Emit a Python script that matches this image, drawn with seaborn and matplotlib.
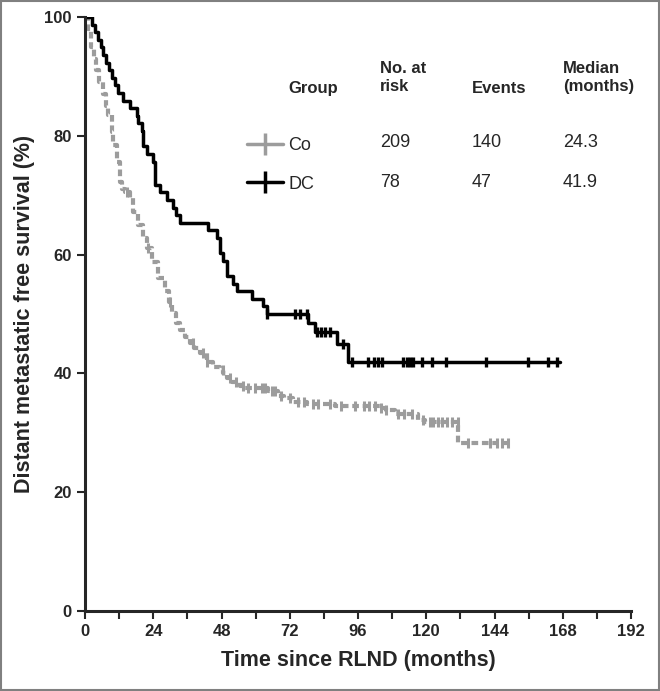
import numpy as np
import pandas as pd
import seaborn as sns
from matplotlib import pyplot as plt
from matplotlib.lines import Line2D
from matplotlib.patches import Rectangle

# DC group (black, solid) - survival % after each step
dc_time = [0, 2.5, 3.5, 4.5, 5.5, 6.5, 7.5, 8.5, 9.5, 10.5, 11.5, 13.5, 15.8,
           18.2, 18.8, 19.9, 20.5, 21.7, 24.0, 24.6, 26.4, 29.0, 31.0, 32.0,
           33.4, 43.3, 46.3, 47.5, 48.5, 49.8, 52.1, 53.3, 58.6, 62.7, 63.9,
           78.5, 80.9, 88.5, 92.5]
dc_surv = [100, 98.7, 97.4, 96.2, 94.9, 93.6, 92.3, 91.0, 89.7, 88.5, 87.2,
           85.9, 84.6, 83.3, 82.1, 80.8, 78.2, 76.9, 75.6, 71.8, 70.5, 69.2,
           67.9, 66.7, 65.4, 64.1, 62.8, 60.3, 59.0, 56.4, 55.1, 53.9, 52.6,
           51.3, 50.0, 48.5, 46.9, 44.9, 42.0]
dc_end = 167
dc_censor = [64, 74, 75.5, 78, 81.5, 83, 84.5, 86, 90.8, 93.8, 99.5, 101.5,
             103, 104.4, 111.9, 113.1, 114.3, 115.4, 118.4, 121.9, 126.9,
             141, 155.9, 162.7, 165.8]

# Co group (grey, dashed)
co_time = [0, 1, 2, 3, 4, 5, 6.4, 7.3, 8.2, 9.4, 10, 11.1, 12.3, 13, 14.1,
           15.8, 17, 18.7, 20.5, 21.7, 23.5, 25.8, 28.1, 29.5, 30.5, 32, 33.4,
           35, 36.9, 38.5, 40.4, 42.8, 45.1, 47.5, 48.6, 50, 51.6, 54.5, 56,
           64.5, 68, 70, 73, 78, 88, 104, 106, 109, 117, 119.5, 131.3]
co_surv = [100, 98, 95, 93, 91, 89, 87, 85, 83.5, 80.7, 78.5, 75.6, 72.3, 71,
           70.6, 69.5, 67.2, 65, 62.8, 61.1, 58.8, 56, 53.8, 52, 50.1, 48.5,
           47.3, 46.2, 45.1, 44.2, 43.4, 42, 41.1, 40.6, 40, 39.2, 38.6, 37.8,
           37.5, 37.0, 36.2, 35.8, 35.2, 34.9, 34.5, 34.2, 33.8, 33.2, 32.2,
           31.8, 28.3]
co_end = 149.4
co_censor = [14.8, 22, 30, 38, 41.5, 43, 48.5, 51, 53, 55.6, 57.4, 59.8, 62.2,
             63.3, 65.8, 66.8, 69, 72, 75, 77, 80, 82, 86, 90, 95, 98, 100,
             102, 104, 106, 110, 112, 114.9, 119, 121.3, 122.5, 124.1, 125.4,
             127.2, 128.9, 131, 134.8, 142.4, 144.8, 146.5, 148.8]

groups = ["Co", "DC"]
n_risk = ["209", "78"]
events = ["140", "47"]
medians = ["24.3", "41.9"]

grey = "#9c9c9c"


def step_frame(times, surv, end):
    return pd.DataFrame({"time": list(times) + [end],
                         "surv": list(surv) + [surv[-1]]})


def censor_frame(times, surv, cens):
    idx = np.searchsorted(times, cens, side="right") - 1
    return pd.DataFrame({"time": cens, "surv": np.array(surv)[idx]})


sns.set_style("ticks")
plt.rcParams['font.family'] = ['Liberation Sans', 'DejaVu Sans']

fig = plt.figure(figsize=(6.6, 6.91), dpi=100)
ax = fig.add_axes([0.1288, 0.1158, 0.8273, 0.8596])

sns.lineplot(data=step_frame(co_time, co_surv, co_end), x="time", y="surv",
             color=grey, lw=3, linestyle=(0, (1.6, 0.9)), drawstyle="steps-post",
             estimator=None, sort=False, ax=ax)
sns.lineplot(data=step_frame(dc_time, dc_surv, dc_end), x="time", y="surv",
             color="black", lw=2.5, drawstyle="steps-post",
             estimator=None, sort=False, ax=ax)
sns.scatterplot(data=censor_frame(co_time, co_surv, co_censor), x="time", y="surv",
                marker="|", s=55, linewidth=2.2, color=grey, ax=ax, zorder=3)
sns.scatterplot(data=censor_frame(dc_time, dc_surv, dc_censor), x="time", y="surv",
                marker="|", s=60, linewidth=2.4, color="black", ax=ax, zorder=3)

ax.set_xlim(0, 192)
ax.set_ylim(0, 100)
ax.set_xticks(np.arange(0, 193, 24))
ax.set_xticks(np.arange(12, 193, 24), minor=True)
ax.set_yticks(np.arange(0, 101, 20))
sns.despine(ax=ax)
for s in ["left", "bottom"]:
    ax.spines[s].set_linewidth(2.2)
ax.tick_params(which="both", width=1.5, length=6, direction="out")
for lab in ax.get_xticklabels() + ax.get_yticklabels():
    lab.set_fontweight("bold")
    lab.set_fontsize(12)
ax.set_xlabel("Time since RLND (months)", fontsize=15.5, fontweight="bold", labelpad=8)
ax.set_ylabel("Distant metastatic free survival (%)", fontsize=15.5,
              fontweight="bold", labelpad=7)

# legend table
handles = [Line2D([], [], color=grey, lw=2.5, marker="|", ms=16, mew=2.5),
           Line2D([], [], color="black", lw=2.5, marker="|", ms=16, mew=2.5)]
ax.legend(handles, groups, loc="upper left", bbox_to_anchor=(0.283, 0.81),
          frameon=False, fontsize=13, handlelength=2.0, labelspacing=1.2,
          handletextpad=0.3, borderaxespad=0)
cols_x = [103.7, 136, 168]
ax.text(71.4, 88, "Group", fontsize=12, fontweight="bold", va="center")
ax.text(cols_x[0], 89.8, "No. at\nrisk", fontsize=12, fontweight="bold", va="center",
        linespacing=1.25)
ax.text(cols_x[1], 88, "Events", fontsize=12, fontweight="bold", va="center")
ax.text(cols_x[2], 89.8, "Median\n(months)", fontsize=12, fontweight="bold",
        va="center", linespacing=1.25)
row_y = [78.8, 72.2]
for i in range(2):
    for cx, vals in zip(cols_x, [n_risk, events, medians]):
        ax.text(cx, row_y[i], vals[i], fontsize=13, va="center")

fig.patches.append(Rectangle((0.002, 0.002), 0.996, 0.996, transform=fig.transFigure,
                             fill=False, edgecolor="#808080", lw=1.5))

fig.savefig("out.png", dpi=100)
